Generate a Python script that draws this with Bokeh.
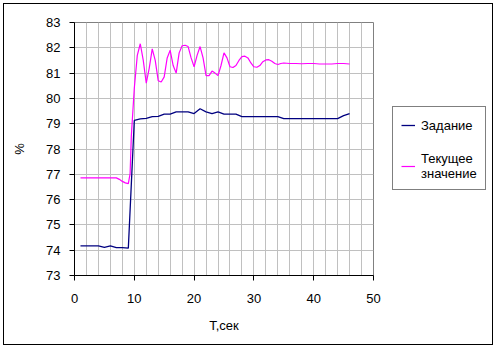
from bokeh.plotting import figure
from bokeh.layouts import row
from bokeh.models import SingleIntervalTicker, Legend, LegendItem, Range1d
from bokeh.embed import file_html
from bokeh.resources import INLINE

# Задание (setpoint), 1-second samples
t_set = list(range(1, 47))
v_set = [74.17, 74.17, 74.17, 74.17, 74.11, 74.17, 74.10, 74.10, 74.08, 79.13,
         79.19, 79.21, 79.28, 79.29, 79.38, 79.38, 79.47, 79.47, 79.47, 79.40,
         79.59, 79.47, 79.40, 79.47, 79.38, 79.38, 79.38, 79.28, 79.28, 79.28,
         79.28, 79.28, 79.28, 79.28, 79.20, 79.20, 79.20, 79.20, 79.20, 79.20,
         79.20, 79.20, 79.20, 79.20, 79.32, 79.40]

# Текущее значение (current value)
t_cur = [1, 2, 3, 4, 5, 6, 7, 7.5, 8, 8.5, 9, 9.3, 9.5, 10, 10.5, 11, 11.5, 12, 12.5,
         13, 13.5, 14, 14.5, 15, 15.5, 16, 16.5, 17, 17.5, 18, 18.5, 19, 19.5,
         20, 20.5, 21, 21.5, 22, 22.5, 23, 23.5, 24, 24.5, 25, 25.5, 26, 26.5,
         27, 27.5, 28, 28.5, 29, 29.5, 30, 30.5, 31, 31.5, 32, 32.5, 33, 33.5,
         34, 34.5, 35, 36, 37, 38, 39, 40, 41, 42, 43, 44, 45, 46]
v_cur = [76.86, 76.86, 76.86, 76.86, 76.86, 76.86, 76.86, 76.80, 76.72, 76.66, 76.63,
         77.03, 78.5, 80.4, 81.7, 82.16, 81.5, 80.6, 81.2,
         81.96, 81.5, 80.7, 80.65, 80.85, 81.6, 81.9, 81.3, 81.0, 81.8, 82.08, 82.1,
         82.05, 81.6, 81.25, 81.7, 82.05, 81.6, 80.9, 80.9, 81.08, 81.0, 80.9, 81.3,
         81.8, 81.6, 81.25, 81.22, 81.3, 81.5, 81.65, 81.67, 81.6, 81.4, 81.25, 81.23,
         81.3, 81.45, 81.52, 81.53, 81.47, 81.38, 81.34, 81.38, 81.4, 81.38, 81.38,
         81.37, 81.38, 81.38, 81.36, 81.36, 81.36, 81.38, 81.38, 81.36]

series_names = ["Задание", "Текущее\nзначение"]
series_colors = ["#000080", "#ff00ff"]
x_ticks_interval = 10
FONT = "Liberation Sans"

p = figure(width=380, height=340, output_backend="svg", toolbar_location=None,
           x_range=Range1d(0, 50), y_range=Range1d(73, 83),
           min_border_left=70, min_border_top=18, min_border_bottom=69,
           min_border_right=11)

p.background_fill_color = "white"
p.border_fill_color = "white"
p.outline_line_color = "#808080"
p.outline_line_width = 1

r1 = p.line(t_set, v_set, line_color=series_colors[0], line_width=1.3)
r2 = p.line(t_cur, v_cur, line_color=series_colors[1], line_width=1.2)

p.xaxis.ticker = SingleIntervalTicker(interval=x_ticks_interval, num_minor_ticks=0)
p.yaxis.ticker = SingleIntervalTicker(interval=1, num_minor_ticks=0)
p.xgrid.ticker = SingleIntervalTicker(interval=2, num_minor_ticks=0)
p.ygrid.ticker = SingleIntervalTicker(interval=1, num_minor_ticks=0)
p.grid.grid_line_color = "#c0c0c0"
p.grid.grid_line_width = 1

for ax in (p.xaxis, p.yaxis):
    ax.axis_line_color = "black"
    ax.major_tick_line_color = "black"
    ax.major_tick_in = 0
    ax.major_tick_out = 5
    ax.minor_tick_line_color = None
    ax.major_label_text_font = FONT
    ax.major_label_text_font_size = "13px"
    ax.major_label_text_color = "black"
    ax.axis_label_text_font = FONT
    ax.axis_label_text_font_size = "13px"
    ax.axis_label_text_font_style = "normal"
    ax.axis_label_text_color = "black"

p.xaxis.axis_label = "T,сек"
p.yaxis.axis_label = "%"
p.xaxis.major_label_standoff = 13
p.yaxis.major_label_standoff = 9
p.xaxis.axis_label_standoff = 12
p.yaxis.axis_label_standoff = 16

# legend panel (separate figure to the right; series drawn outside its view range)
q = figure(width=108, height=340, output_backend="svg", toolbar_location=None,
           x_axis_type=None, y_axis_type=None,
           x_range=Range1d(-20, -10), y_range=Range1d(0, 1),
           min_border_left=0, min_border_right=0, min_border_top=0, min_border_bottom=0)
q.outline_line_color = None
q.background_fill_color = "white"
q.border_fill_color = "white"
q.grid.visible = False
l1 = q.line(t_set, v_set, line_color=series_colors[0], line_width=1.3)
l2 = q.line(t_cur, v_cur, line_color=series_colors[1], line_width=1.2)

legend = Legend(items=[LegendItem(label=series_names[0], renderers=[l1]),
                       LegendItem(label=series_names[1], renderers=[l2])],
                location=(8, 85))
legend.border_line_color = "black"
legend.border_line_width = 1
legend.label_text_font = FONT
legend.label_text_font_size = "13px"
legend.label_text_color = "black"
legend.glyph_width = 14
legend.label_standoff = 6
legend.padding = 8
legend.spacing = 16
legend.margin = 0
legend.background_fill_alpha = 1
q.add_layout(legend)

layout = row(p, q, spacing=0)
layout.styles = {"border": "1px solid black", "margin-left": "3px", "margin-top": "3px"}

open("out.html", "w").write(file_html(layout, INLINE))
